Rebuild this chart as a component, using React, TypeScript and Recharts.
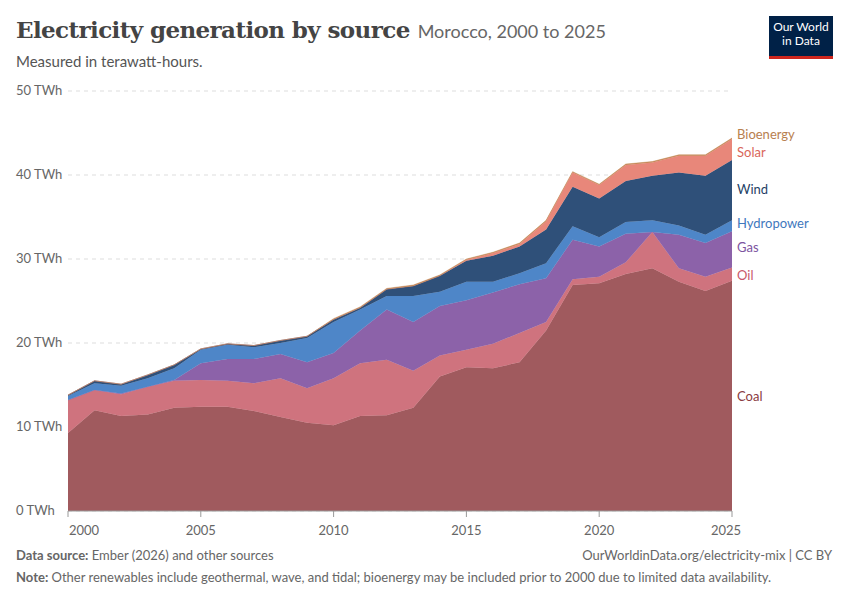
import { AreaChart, Area, XAxis, YAxis, CartesianGrid } from "recharts";

const years = [2000,2001,2002,2003,2004,2005,2006,2007,2008,2009,2010,2011,2012,2013,2014,2015,2016,2017,2018,2019,2020,2021,2022,2023,2024,2025];
const coal = [9.3,12.0,11.3,11.5,12.3,12.4,12.4,11.9,11.2,10.5,10.2,11.3,11.4,12.3,16.0,17.1,17.0,17.7,21.5,26.9,27.1,28.2,28.9,27.3,26.2,27.4];
const oil = [3.9,2.4,2.6,3.3,3.2,3.2,3.1,3.3,4.6,4.1,5.6,6.3,6.6,4.4,2.5,2.1,2.9,3.5,1.0,0.7,0.8,1.4,4.3,1.6,1.7,1.6];
const gas = [0,0,0.1,0,0.1,2.0,2.6,2.9,2.9,3.1,3.0,3.9,6.0,5.8,5.9,5.9,6.1,5.8,5.2,4.7,3.6,3.4,0,4.0,4.0,4.3];
const hydro = [0.5,0.8,0.9,1.0,1.4,1.6,1.7,1.4,1.3,2.9,3.7,2.5,1.6,3.1,1.7,2.2,1.3,1.3,1.8,1.6,1.1,1.4,1.4,1.1,1.0,1.3];
const wind = [0.1,0.3,0.2,0.4,0.4,0.1,0.1,0.2,0.3,0.2,0.3,0.2,0.8,1.2,1.9,2.5,3.1,3.2,4.0,4.7,4.6,4.9,5.3,6.3,7.0,7.2];
const solar = [0,0,0,0,0,0,0,0,0,0,0,0,0,0,0,0.1,0.3,0.3,1.0,1.7,1.6,1.9,1.6,2.0,2.4,2.5];
const bio = [0,0,0,0,0,0,0,0,0,0,0.1,0.1,0.1,0.1,0.1,0.1,0.1,0.1,0.1,0.1,0.1,0.1,0.1,0.1,0.1,0.1];

const yTicks = [0, 10, 20, 30, 40, 50];
const xTicks = [2000, 2005, 2010, 2015, 2020, 2025];

const data = years.map((year, i) => ({
  year, coal: coal[i], oil: oil[i], gas: gas[i], hydro: hydro[i],
  wind: wind[i], solar: solar[i], bio: bio[i],
}));

const series = [
  { key: "coal", fill: "#a05a5e" },
  { key: "oil", fill: "#cf737e" },
  { key: "gas", fill: "#8c62a9" },
  { key: "hydro", fill: "#4e86c8" },
  { key: "wind", fill: "#2f5079" },
  { key: "solar", fill: "#e8877a" },
  { key: "bio", fill: "#c48957" },
];

const labels = [
  { text: "Bioenergy", y: 135, color: "#b8804f" },
  { text: "Solar", y: 153, color: "#d9665a" },
  { text: "Wind", y: 190, color: "#1f3f66" },
  { text: "Hydropower", y: 224, color: "#3f78bd" },
  { text: "Gas", y: 248, color: "#7d54a0" },
  { text: "Oil", y: 276, color: "#c9596a" },
  { text: "Coal", y: 397, color: "#8a3b42" },
];

const font = "Lato, 'Noto Sans', sans-serif";

const YTick = (props: any) => (
  <text x={16} y={props.y + 4} fill="#666" fontSize={13} fontFamily={font}>
    {props.payload.value} TWh
  </text>
);

const XTick = (props: any) => {
  const v = props.payload.value;
  const dx = v === 2000 ? 16 : v === 2025 ? -6 : 0;
  return (
    <text x={props.x + dx} y={props.y + 16} textAnchor="middle" fill="#666" fontSize={13} fontFamily={font}>
      {v}
    </text>
  );
};

export default function App() {
  return (
    <div style={{ position: "relative", width: 850, height: 600, background: "#fff", fontFamily: font, margin: -8 }}>
      <div style={{ position: "absolute", left: 16, top: 16, fontSize: 23, fontWeight: 700, color: "#444", fontFamily: "'DejaVu Serif', serif", letterSpacing: -0.6 }}>
        Electricity generation by source
        <span style={{ fontFamily: font, fontWeight: 400, fontSize: 18, color: "#666", marginLeft: 8, letterSpacing: 0 }}>Morocco, 2000 to 2025</span>
      </div>
      <div style={{ position: "absolute", left: 16, top: 52, fontSize: 15, color: "#555" }}>Measured in terawatt-hours.</div>
      <div style={{ position: "absolute", left: 769, top: 16, width: 64, height: 36, background: "#002147", color: "#fff", fontSize: 12, lineHeight: "14px", textAlign: "center", paddingTop: 4, borderBottom: "3px solid #ce261e" }}>
        Our World<br />in Data
      </div>
      <div style={{ position: "absolute", left: 0, top: 0 }}>
        <AreaChart width={850} height={600} data={data} margin={{ top: 91, right: 118, left: 67, bottom: 59 }}>
          <CartesianGrid vertical={false} strokeDasharray="4 4" stroke="#ddd" />
          <XAxis dataKey="year" type="number" domain={[2000, 2025]} ticks={xTicks} tick={<XTick />} axisLine={{ stroke: "#999" }} tickLine={{ stroke: "#999" }} height={30} />
          <YAxis domain={[0, 50]} ticks={yTicks} tick={<YTick />} axisLine={false} tickLine={false} width={1} />
          {series.map((s) => (
            <Area key={s.key} dataKey={s.key} stackId="1" type="linear" fill={s.fill} fillOpacity={1} stroke={s.fill} strokeWidth={0.5} isAnimationActive={false} />
          ))}
        </AreaChart>
      </div>
      {labels.map((l) => (
        <div key={l.text} style={{ position: "absolute", left: 737, top: l.y - 9, fontSize: 13, color: l.color }}>{l.text}</div>
      ))}
      <div style={{ position: "absolute", left: 16, top: 547, fontSize: 13, color: "#666" }}>
        <b>Data source:</b> Ember (2026) and other sources
      </div>
      <div style={{ position: "absolute", right: 18, top: 547, fontSize: 13, color: "#666" }}>
        OurWorldinData.org/electricity-mix | CC BY
      </div>
      <div style={{ position: "absolute", left: 16, top: 569, fontSize: 13, color: "#666" }}>
        <b>Note:</b> Other renewables include geothermal, wave, and tidal; bioenergy may be included prior to 2000 due to limited data availability.
      </div>
    </div>
  );
}
